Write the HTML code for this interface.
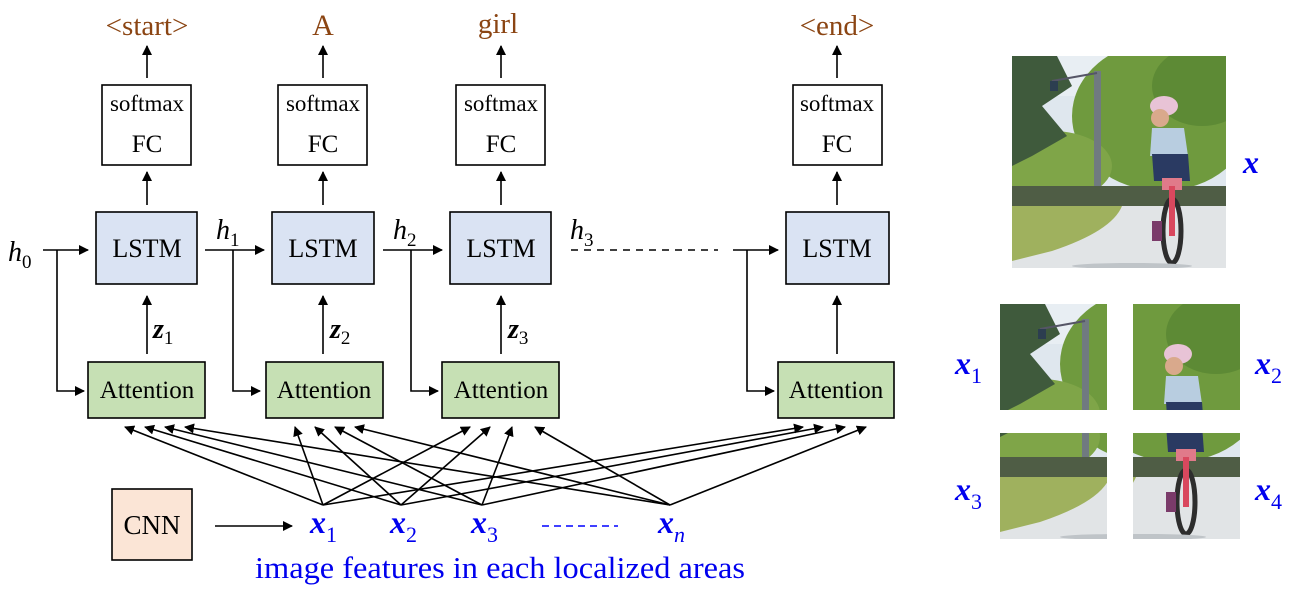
<!DOCTYPE html>
<html><head><meta charset="utf-8"><style>
html,body{margin:0;padding:0;background:#fff;}
svg{display:block;}
text{font-family:"Liberation Serif",serif;}
</style></head><body>
<svg width="1296" height="595" viewBox="0 0 1296 595" xmlns="http://www.w3.org/2000/svg">
<defs>
<marker id="a" markerWidth="10" markerHeight="10" refX="9" refY="5" orient="auto" markerUnits="userSpaceOnUse">
<path d="M0,0 L10,5 L0,10 z" fill="#000"/></marker>
<clipPath id="full"><rect x="0" y="0" width="214" height="212"/></clipPath>
<g id="scene0">
<rect x="0" y="0" width="214" height="212" fill="#dfe7ee"/>
<rect x="0" y="0" width="214" height="40" fill="#e8eef3"/>
<ellipse cx="150" cy="60" rx="90" ry="75" fill="#6f9a3e"/>
<ellipse cx="190" cy="30" rx="50" ry="40" fill="#5d8a35"/>
<ellipse cx="40" cy="110" rx="60" ry="35" fill="#7fa548"/>
<path d="M0,0 L45,0 L60,30 L30,50 L55,80 L20,100 L0,110 z" fill="#3f5a3c"/>
<rect x="82" y="15" width="7" height="135" fill="#707a80"/>
<path d="M40,25 L85,17" stroke="#556" stroke-width="2"/>
<rect x="38" y="25" width="8" height="10" fill="#2c3e50"/>
<rect x="0" y="130" width="214" height="22" fill="#4f5d45"/>
<rect x="0" y="150" width="214" height="62" fill="#e1e4e6"/>
<path d="M0,150 L110,150 Q100,175 40,195 L0,205 z" fill="#9fb15e"/>
<ellipse cx="152" cy="50" rx="14" ry="10" fill="#e8c3d6"/>
<ellipse cx="148" cy="62" rx="9" ry="9" fill="#d9a98c"/>
<path d="M140,72 L172,72 L176,100 L138,100 z" fill="#b8cde0"/>
<path d="M140,98 L176,98 L178,125 L142,125 z" fill="#2a3a62"/>
<rect x="150" y="122" width="20" height="12" fill="#e07a8a"/>
<ellipse cx="160" cy="175" rx="9" ry="32" fill="none" stroke="#2d2d2d" stroke-width="5"/>
<rect x="157" y="130" width="6" height="50" fill="#d9485e"/>
<rect x="140" y="165" width="10" height="20" fill="#7a3b6a"/>
<ellipse cx="120" cy="210" rx="60" ry="3" fill="#bfc4c8"/>
</g>
<g id="scene" clip-path="url(#full)"><use href="#scene0"/></g>
<clipPath id="q"><rect x="0" y="0" width="107" height="106"/></clipPath>
</defs>

<g fill="none" stroke="#000" stroke-width="1.6">
<rect x="102" y="85" width="89" height="80" fill="#fff"/>
<rect x="278" y="85" width="89" height="80" fill="#fff"/>
<rect x="456" y="85" width="89" height="80" fill="#fff"/>
<rect x="793" y="85" width="89" height="80" fill="#fff"/>
<rect x="96" y="212" width="101" height="72" fill="#dae3f3"/>
<rect x="272" y="212" width="102" height="72" fill="#dae3f3"/>
<rect x="450" y="212" width="101" height="72" fill="#dae3f3"/>
<rect x="786" y="212" width="103" height="72" fill="#dae3f3"/>
<rect x="88" y="362" width="117" height="56" fill="#c6e0b4"/>
<rect x="266" y="362" width="117" height="56" fill="#c6e0b4"/>
<rect x="442" y="362" width="117" height="56" fill="#c6e0b4"/>
<rect x="778" y="362" width="116" height="56" fill="#c6e0b4"/>
<rect x="112" y="489" width="80" height="71" fill="#fbe5d6"/>
</g>

<g stroke="#000" stroke-width="1.6" fill="none">
<line x1="147" y1="78" x2="147" y2="46" marker-end="url(#a)"/>
<line x1="323" y1="78" x2="323" y2="46" marker-end="url(#a)"/>
<line x1="501" y1="78" x2="501" y2="46" marker-end="url(#a)"/>
<line x1="837" y1="78" x2="837" y2="46" marker-end="url(#a)"/>
<line x1="147" y1="205" x2="147" y2="172" marker-end="url(#a)"/>
<line x1="323" y1="205" x2="323" y2="172" marker-end="url(#a)"/>
<line x1="501" y1="205" x2="501" y2="172" marker-end="url(#a)"/>
<line x1="837" y1="205" x2="837" y2="172" marker-end="url(#a)"/>
<line x1="147" y1="354" x2="147" y2="296" marker-end="url(#a)"/>
<line x1="323" y1="354" x2="323" y2="296" marker-end="url(#a)"/>
<line x1="501" y1="354" x2="501" y2="296" marker-end="url(#a)"/>
<line x1="837" y1="354" x2="837" y2="296" marker-end="url(#a)"/>
<line x1="43" y1="250" x2="88" y2="250" marker-end="url(#a)"/>
<polyline points="57,250 57,391 84,391" marker-end="url(#a)"/>
<line x1="205" y1="250" x2="264" y2="250" marker-end="url(#a)"/>
<polyline points="233,250 233,391 260,391" marker-end="url(#a)"/>
<line x1="383" y1="250" x2="442" y2="250" marker-end="url(#a)"/>
<polyline points="411,250 411,391 438,391" marker-end="url(#a)"/>
<line x1="571" y1="250" x2="718" y2="250" stroke-dasharray="7,6"/>
<line x1="733" y1="250" x2="778" y2="250" marker-end="url(#a)"/>
<polyline points="747,250 747,391 774,391" marker-end="url(#a)"/>
<line x1="215" y1="526" x2="292" y2="526" marker-end="url(#a)"/>
<line x1="542" y1="526" x2="618" y2="526" stroke="#00f" stroke-dasharray="7,5"/>
<line x1="323" y1="505" x2="125" y2="427" marker-end="url(#a)"/>
<line x1="323" y1="505" x2="295" y2="427" marker-end="url(#a)"/>
<line x1="323" y1="505" x2="470" y2="427" marker-end="url(#a)"/>
<line x1="323" y1="505" x2="803" y2="427" marker-end="url(#a)"/>
<line x1="401" y1="505" x2="145" y2="427" marker-end="url(#a)"/>
<line x1="401" y1="505" x2="315" y2="427" marker-end="url(#a)"/>
<line x1="401" y1="505" x2="490" y2="427" marker-end="url(#a)"/>
<line x1="401" y1="505" x2="823" y2="427" marker-end="url(#a)"/>
<line x1="482" y1="505" x2="165" y2="427" marker-end="url(#a)"/>
<line x1="482" y1="505" x2="335" y2="427" marker-end="url(#a)"/>
<line x1="482" y1="505" x2="512" y2="427" marker-end="url(#a)"/>
<line x1="482" y1="505" x2="845" y2="427" marker-end="url(#a)"/>
<line x1="670" y1="505" x2="185" y2="427" marker-end="url(#a)"/>
<line x1="670" y1="505" x2="355" y2="427" marker-end="url(#a)"/>
<line x1="670" y1="505" x2="535" y2="427" marker-end="url(#a)"/>
<line x1="670" y1="505" x2="866" y2="427" marker-end="url(#a)"/>
</g>

<g fill="#8b4513" font-size="29" text-anchor="middle">
<text x="147" y="35">&lt;start&gt;</text>
<text x="323" y="35" font-size="30">A</text>
<text x="498" y="33">girl</text>
<text x="837" y="35">&lt;end&gt;</text>
</g>
<g font-size="23" text-anchor="middle" fill="#000">
<text x="147" y="111">softmax</text><text x="147" y="152" font-size="25">FC</text>
<text x="323" y="111">softmax</text><text x="323" y="152" font-size="25">FC</text>
<text x="501" y="111">softmax</text><text x="501" y="152" font-size="25">FC</text>
<text x="837" y="111">softmax</text><text x="837" y="152" font-size="25">FC</text>
<g font-size="26">
<text x="147" y="257">LSTM</text><text x="323" y="257">LSTM</text>
<text x="501" y="257">LSTM</text><text x="837" y="257">LSTM</text>
</g>
<g font-size="25">
<text x="147" y="398">Attention</text><text x="324" y="398">Attention</text>
<text x="501" y="398">Attention</text><text x="836" y="398">Attention</text>
</g>
<text x="152" y="534" font-size="27">CNN</text>
</g>
<g font-size="28" font-style="italic" fill="#000">
<text x="8" y="261">h<tspan font-size="19" font-style="normal" dy="7">0</tspan></text>
<text x="216" y="239">h<tspan font-size="19" font-style="normal" dy="7">1</tspan></text>
<text x="393" y="239">h<tspan font-size="19" font-style="normal" dy="7">2</tspan></text>
<text x="570" y="239">h<tspan font-size="19" font-style="normal" dy="7">3</tspan></text>
</g>
<g font-size="28" font-style="italic" font-weight="bold" fill="#000">
<text x="153" y="338">z<tspan font-size="19" font-style="normal" font-weight="normal" dy="6">1</tspan></text>
<text x="330" y="338">z<tspan font-size="19" font-style="normal" font-weight="normal" dy="6">2</tspan></text>
<text x="508" y="338">z<tspan font-size="19" font-style="normal" font-weight="normal" dy="6">3</tspan></text>
</g>
<g font-size="32" font-style="italic" font-weight="bold" fill="#0000ee">
<text x="310" y="533">x<tspan font-size="22" font-style="normal" font-weight="normal" dy="9">1</tspan></text>
<text x="390" y="533">x<tspan font-size="22" font-style="normal" font-weight="normal" dy="9">2</tspan></text>
<text x="471" y="533">x<tspan font-size="22" font-style="normal" font-weight="normal" dy="9">3</tspan></text>
<text x="658" y="533">x<tspan font-size="22" font-style="italic" font-weight="normal" dy="9">n</tspan></text>
<text x="1243" y="173">x</text>
<text x="955" y="374">x<tspan font-size="22" font-style="normal" font-weight="normal" dy="9">1</tspan></text>
<text x="1255" y="374">x<tspan font-size="22" font-style="normal" font-weight="normal" dy="9">2</tspan></text>
<text x="955" y="500">x<tspan font-size="22" font-style="normal" font-weight="normal" dy="9">3</tspan></text>
<text x="1255" y="500">x<tspan font-size="22" font-style="normal" font-weight="normal" dy="9">4</tspan></text>
</g>
<text x="500" y="578" font-size="31" fill="#0000ee" text-anchor="middle" textLength="490" lengthAdjust="spacingAndGlyphs">image features in each localized areas</text>

<use href="#scene" x="1012" y="56"/>
<g transform="translate(1000,304)"><g clip-path="url(#q)"><use href="#scene0"/></g></g>
<g transform="translate(1133,304)"><g clip-path="url(#q)"><use href="#scene0" x="-107"/></g></g>
<g transform="translate(1000,433)"><g clip-path="url(#q)"><use href="#scene0" y="-106"/></g></g>
<g transform="translate(1133,433)"><g clip-path="url(#q)"><use href="#scene0" x="-107" y="-106"/></g></g>
</svg>
</body></html>
